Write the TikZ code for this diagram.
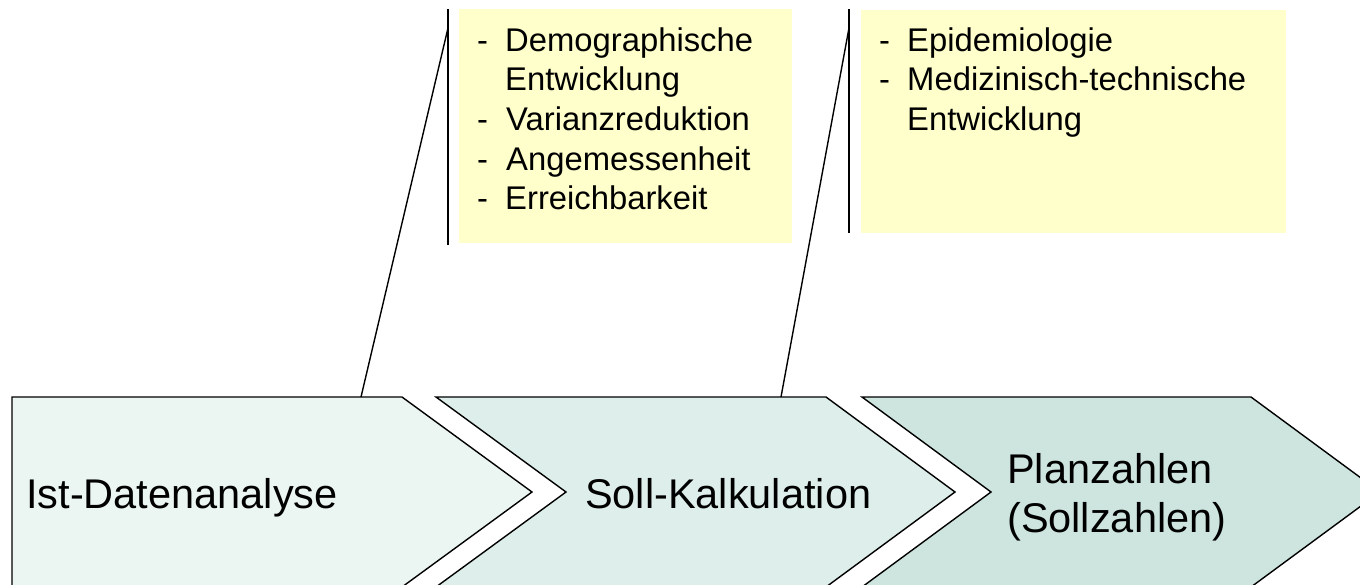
\documentclass[tikz,border=0pt]{standalone}
\usepackage{fontspec}
\setmainfont{Liberation Sans}
\definecolor{yel}{HTML}{FFFFCC}
\definecolor{chA}{HTML}{EBF5F2}
\definecolor{chB}{HTML}{DEEEEA}
\definecolor{chC}{HTML}{CEE5DF}
\begin{document}
\begin{tikzpicture}[x=1pt,y=-1pt,line join=miter,
  chev/.style={draw=black,line width=1.4pt},
  notebox/.style={fill=yel,draw=none},
  big/.style={font=\fontsize{41.5}{49}\selectfont,inner sep=0pt,anchor=base west},
  item/.style={font=\fontsize{32.8}{39.5}\selectfont,inner sep=0pt,anchor=base west},
  callout/.style={draw=black,line width=1.4pt}]
\useasboundingbox (0,0) rectangle (1360,584);
\clip (0,0) rectangle (1360,584);

% yellow note boxes
\fill[notebox] (459,9) rectangle (792,243);
\fill[notebox] (861,10) rectangle (1286,233);

% chevrons
\path[chev,fill=chA] (12,397) -- (402,397) -- (532,492) -- (402,587) -- (12,587) -- cycle;
\path[chev,fill=chB] (436,397) -- (826,397) -- (955,492) -- (826,587) -- (436,587) -- (566,492) -- cycle;
\path[chev,fill=chC] (862,397) -- (1251,397) -- (1380,492) -- (1251,587) -- (862,587) -- (991,492) -- cycle;

% chevron labels
\node[big] (ist) at (26,508) {Ist-Datenanalyse};
\node[big] (soll) at (585,508) {Soll-Kalkulation};
\node[big] (plan1) at (1007,483) {Planzahlen};
\node[big] (plan2) at (1007,532) {(Sollzahlen)};

% callout brackets
\coordinate (b1top) at (448,9);
\coordinate (b1bot) at (448,245);
\coordinate (b1join) at (448,28);
\coordinate (b1foot) at (361,397);
\coordinate (b2top) at (849,9);
\coordinate (b2bot) at (849,233);
\coordinate (b2join) at (849,28);
\coordinate (b2foot) at (781,397);
\draw[callout] (b1top) -- (b1bot);
\draw[callout] (b1foot) -- (b1join);
\draw[callout] (b2top) -- (b2bot);
\draw[callout] (b2foot) -- (b2join);

% box 1 items
\node[item] (d1) at (477,51) {-};
\node[item] (t1) at (505,51) {Demographische};
\node[item] (t1b) at (505,90) {Entwicklung};
\node[item] (d2) at (477,130) {-};
\node[item] (t2) at (506,130) {Varianzreduktion};
\node[item] (d3) at (477,170) {-};
\node[item] (t3) at (506,170) {Angemessenheit};
\node[item] (d4) at (477,209) {-};
\node[item] (t4) at (505,209) {Erreichbarkeit};

% box 2 items
\node[item] (e1) at (879,51) {-};
\node[item] (u1) at (907,51) {Epidemiologie};
\node[item] (e2) at (879,90) {-};
\node[item] (u2) at (907,90) {Medizinisch-technische};
\node[item] (u2b) at (907,130) {Entwicklung};
\end{tikzpicture}
\end{document}
